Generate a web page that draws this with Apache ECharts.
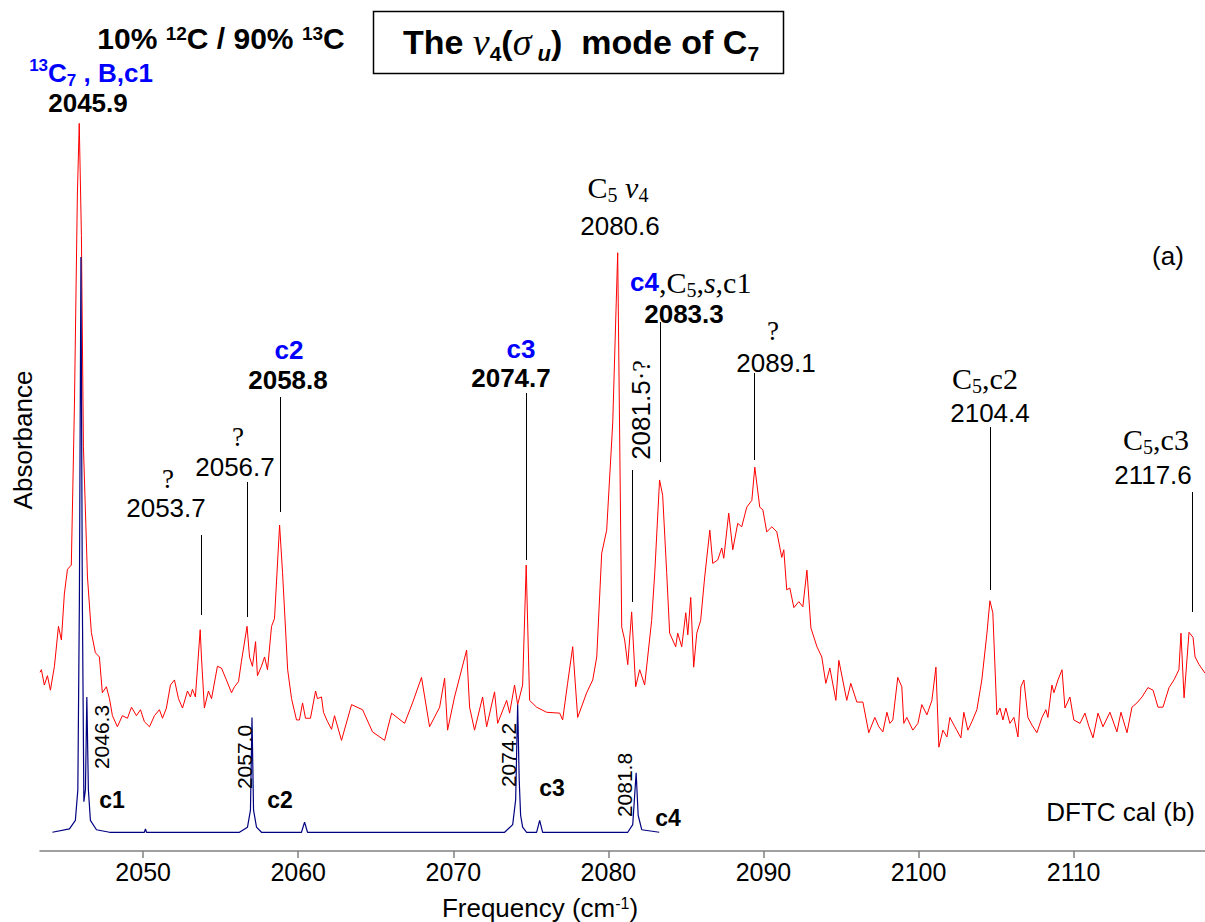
<!DOCTYPE html>
<html><head><meta charset="utf-8">
<script src="https://cdn.jsdelivr.net/npm/echarts@6/dist/echarts.min.js"></script>
<style>html,body{margin:0;padding:0;background:#fff}#c{width:1205px;height:922px}</style>
</head><body><div id="c"></div>
<script>
// ---------- DATA ----------
// (a) experimental absorbance spectrum (arbitrary units)
const redFreq = [2043.35,2043.44,2043.63,2043.83,2044.02,2044.28,2044.54,2044.73,2044.92,2045.12,
2045.37,2045.57,2045.76,2045.88,2046.02,2046.15,2046.41,2046.66,2046.92,2047.18,
2047.37,2047.63,2047.83,2048.02,2048.34,2048.66,2048.99,2049.25,2049.57,2049.83,
2050.08,2050.41,2050.73,2051.05,2051.25,2051.50,2051.76,2052.02,2052.28,2052.54,
2052.86,2053.05,2053.18,2053.37,2053.68,2053.76,2053.95,2054.21,2054.41,2054.79,
2055.05,2055.37,2055.70,2055.89,2056.15,2056.34,2056.70,2056.86,2057.05,2057.25,
2057.37,2057.63,2057.83,2058.02,2058.28,2058.47,2058.80,2058.99,2059.32,2059.57,
2059.89,2060.08,2060.28,2060.47,2060.79,2061.12,2061.24,2061.50,2061.63,2061.89,
2062.15,2062.34,
2062.79,2063.44,2064.15,2064.79,2065.57,2066.02,2066.86,2067.37,2067.95,2068.47,
2069.12,2069.44,2069.63,2070.08,2070.86,2071.05,2071.37,2071.89,2072.15,2072.66,
2072.86,2073.44,2073.63,2073.95,2074.15,2074.47,2074.70,2074.92,2075.37,2076.02,
2076.86,2077.05,2077.37,2077.70,2078.02,2078.60,2078.99,2079.25,2079.57,2079.89,
2080.28,2080.60,2080.73,2080.86,2081.05,2081.25,2081.50,2081.76,2082.02,2082.34,
2082.79,2082.99,2083.30,2083.50,2083.76,2083.95,2084.34,2084.47,2084.73,2084.99,
2085.12,2085.31,2085.50,2085.70,2085.95,2086.21,2086.54,2086.73,2087.05,2087.31,
2087.44,2087.76,2088.02,2088.34,2088.60,2088.92,2089.25,2089.44,2089.76,2089.96,
2090.21,2090.54,2090.86,2091.18,2091.31,2091.50,2091.70,2091.96,2092.28,2092.54,
2092.80,2093.06,2093.45,2093.76,2094.02,2094.28,2094.67,2094.86,2095.37,2095.63,
2096.02,2096.41,2096.79,2097.18,2097.44,2097.70,2097.96,2098.15,2098.34,2098.66,
2098.92,2099.05,2099.24,2099.63,2099.96,2100.21,2100.54,2100.86,2101.12,2101.31,
2101.57,2101.83,2102.02,2102.34,2102.73,2102.92,2103.18,2103.44,2103.76,2104.08,
2104.41,2104.60,2104.79,2105.05,2105.25,2105.44,2105.63,2105.89,2106.15,2106.41,
2106.60,2106.79,2107.05,2107.31,2107.63,2107.96,2108.21,2108.34,2108.60,2108.73,
2108.99,2109.25,2109.44,2109.76,2110.01,2110.41,2110.73,2110.99,2111.25,2111.57,
2111.89,2112.34,2112.79,2113.05,2113.44,2113.76,2114.08,2114.41,2114.79,2115.12,
2115.44,2115.76,2116.15,2116.47,2116.79,2116.92,2117.12,2117.44,2117.70,2117.83,
2118.09,2118.47];
const redAbs = [21.0,21.3,19.5,20.6,18.9,21.7,26.4,24.8,30.2,33.1,
33.6,52.4,77.2,85.5,72.3,47.5,32.2,25.7,23.3,22.8,
18.6,19.3,17.9,15.9,14.6,15.9,15.6,16.9,15.9,16.6,
15.2,14.6,15.9,16.6,15.6,16.8,19.5,20.1,17.9,16.8,
18.8,18.1,19.0,18.1,26.0,22.8,16.8,18.8,17.9,21.7,
21.5,20.1,18.6,19.3,19.9,22.3,26.4,22.8,21.7,24.6,
20.6,21.7,22.8,21.3,26.4,27.3,38.3,32.7,21.3,17.9,
15.4,15.4,17.4,15.6,15.6,18.8,17.9,18.1,16.3,15.2,
14.3,15.9,
13.0,17.2,16.6,14.0,13.0,16.2,15.0,17.4,20.4,14.6,
16.9,20.3,14.2,18.1,23.6,16.9,14.2,18.1,14.6,18.7,
15.0,17.7,16.2,19.5,17.2,19.5,33.6,17.7,16.9,16.3,
16.2,15.4,19.7,24.0,15.7,18.6,20.1,22.8,35.0,37.7,
50.3,70.3,48.3,26.3,24.8,21.9,28.1,19.3,21.3,19.5,
27.1,32.7,43.6,41.8,32.7,25.6,24.0,25.6,24.0,28.0,
25.4,29.8,21.6,25.6,27.1,32.2,37.7,33.8,34.2,35.6,
34.4,39.7,35.4,38.5,38.1,40.4,41.2,45.1,40.4,40.1,
37.5,38.1,37.5,34.5,35.4,30.7,30.9,28.6,29.3,28.7,
33.0,26.2,24.0,22.8,19.7,21.5,17.7,22.4,17.7,19.7,
17.5,17.5,13.9,15.7,14.6,14.0,16.3,15.0,15.4,20.4,
19.3,15.0,15.7,14.2,15.0,17.2,16.0,17.7,21.6,12.2,
14.2,13.4,15.7,14.6,13.3,16.3,14.2,15.2,16.6,20.1,
25.6,29.4,28.0,16.0,16.8,15.4,16.8,15.0,15.7,13.4,
19.3,20.1,15.7,14.8,13.9,15.7,16.6,15.7,19.5,18.6,
20.1,21.3,16.8,18.1,15.4,15.0,16.2,14.6,13.3,16.2,
14.6,16.3,14.0,16.3,13.9,16.9,17.4,18.1,19.2,18.9,
16.9,16.9,19.2,20.1,21.3,25.6,18.0,25.7,25.1,22.8,
21.9,20.9];
// (b) DFTC calculated spectrum
const calFreq = [2044.15,2045.25,2045.63,2045.79,2045.89,2045.99,2046.08,2046.18,2046.28,2046.37,
2046.47,2046.60,2046.99,2047.83,2050.08,2050.15,2050.22,2056.21,2056.73,2056.92,
2057.02,2057.12,2057.31,2057.63,2060.21,2060.41,2060.60,2073.31,2073.83,2074.02,
2074.15,2074.25,2074.34,2074.47,2074.73,2075.37,2075.57,2075.76,2081.25,2081.57,
2081.79,2081.92,2082.15,2083.28];
const calAbs = [2.2,2.6,3.6,7.2,29.5,69.8,29.5,5.8,7.2,18.1,
7.2,3.6,2.5,2.2,2.2,2.6,2.2,2.2,2.8,4.8,
15.7,4.8,2.8,2.2,2.2,3.4,2.2,2.2,3.1,6.0,
17.2,8.3,4.2,2.8,2.2,2.2,3.6,2.2,2.2,3.1,
9.2,4.2,2.5,2.2];
const tickValues = [2050,2060,2070,2080,2090,2100,2110];
// labelled peaks (frequency where the leader line is drawn)
const peakFreq = [2053.7,2056.7,2058.8,2074.7,2081.5,2083.3,2089.4,2104.6,2117.6];

// ---------- LAYOUT / STYLE ----------
const SANS = '"Liberation Sans", Arial, sans-serif';
const SERIF = '"Liberation Serif", "Times New Roman", serif';
const BLUE = '#0000FF';
const leaderY = [[535,615],[482,617],[397,512],[393,560],[470,602],[322,462],[373,460],[427,590],[492,612]];

const rich = {
  n:   {fontFamily: SANS, fontSize: 26, fill: '#000', lineHeight: 26},
  nb:  {fontFamily: SANS, fontSize: 26, fill: '#000', fontWeight: 'bold', lineHeight: 26},
  hb:  {fontFamily: SANS, fontSize: 30, fill: '#000', fontWeight: 'bold', lineHeight: 28},
  hsup:{fontFamily: SANS, fontSize: 19, fill: '#000', fontWeight: 'bold', verticalAlign: 'top', lineHeight: 12},
  bl:  {fontFamily: SANS, fontSize: 26, fill: BLUE, fontWeight: 'bold', lineHeight: 26},
  blt: {fontFamily: SANS, fontSize: 26, fill: BLUE, fontWeight: 'bold', lineHeight: 32},
  blsup:{fontFamily: SANS, fontSize: 17, fill: BLUE, fontWeight: 'bold', verticalAlign: 'top', lineHeight: 10},
  blsub:{fontFamily: SANS, fontSize: 17, fill: BLUE, fontWeight: 'bold', verticalAlign: 'bottom', lineHeight: 10},
  s:   {fontFamily: SERIF, fontSize: 30, fill: '#000', lineHeight: 36},
  si:  {fontFamily: SERIF, fontSize: 30, fill: '#000', fontStyle: 'italic', lineHeight: 36},
  ssub:{fontFamily: SERIF, fontSize: 20, fill: '#000', verticalAlign: 'bottom', lineHeight: 10},
  q:   {fontFamily: SERIF, fontSize: 27, fill: '#000', lineHeight: 20},
  sup: {fontFamily: SANS, fontSize: 16, fill: '#000', verticalAlign: 'top', lineHeight: 10},
  tb:  {fontFamily: SANS, fontSize: 34, fill: '#000', fontWeight: 'bold', lineHeight: 44},
  tnu: {fontFamily: SERIF, fontSize: 38, fill: '#000', fontStyle: 'italic', lineHeight: 44},
  tsub:{fontFamily: SANS, fontSize: 21, fill: '#000', fontWeight: 'bold', verticalAlign: 'bottom', lineHeight: 14},
  tsubi:{fontFamily: SANS, fontSize: 22, fill: '#000', fontWeight: 'bold', fontStyle: 'italic', verticalAlign: 'bottom', lineHeight: 14},
  r:   {fontFamily: SANS, fontSize: 21, fill: '#000', lineHeight: 22},
  rs:  {fontFamily: SERIF, fontSize: 26, fill: '#000', lineHeight: 22},
  cb:  {fontFamily: SANS, fontSize: 23, fill: '#000', fontWeight: 'bold', lineHeight: 23}
};

function T(x, y, text, opt) {
  opt = opt || {};
  return {type: 'text', x: x, y: y, rotation: opt.rot || 0, silent: true, z: 100,
    style: {text: text, rich: rich, align: opt.align || 'center', verticalAlign: 'middle',
      textAlign: opt.align || 'center', textVerticalAlign: 'middle',
      fontFamily: SANS, fontSize: 26, fill: '#000'}};
}

const chart = echarts.init(document.getElementById('c'), null, {renderer: 'svg'});
chart.setOption({
  animation: false,
  backgroundColor: '#fff',
  grid: {left: 40, right: 0, top: 0, bottom: 71, containLabel: false},
  xAxis: {
    type: 'value', min: 2043.35, max: 2118.47,
    axisLine: {show: true, onZero: false, lineStyle: {color: '#808080', width: 1.5}},
    axisTick: {show: true, inside: false, length: 7, customValues: tickValues, lineStyle: {color: '#808080', width: 1.5}},
    axisLabel: {customValues: tickValues, formatter: v => String(v), fontFamily: SANS, fontSize: 25, color: '#000', margin: 8},
    splitLine: {show: false}
  },
  yAxis: {type: 'value', min: 0, max: 100, show: false},
  series: [
    {type: 'line', data: redFreq.map((f, i) => [f, redAbs[i]]), showSymbol: false, symbol: 'none',
      lineStyle: {color: '#FF0000', width: 1}, itemStyle: {color: '#FF0000'}, z: 2},
    {type: 'line', data: calFreq.map((f, i) => [f, calAbs[i]]), showSymbol: false, symbol: 'none',
      lineStyle: {color: '#000080', width: 1.2}, itemStyle: {color: '#000080'}, z: 3}
  ]
});

const px = f => chart.convertToPixel({xAxisIndex: 0}, f);
const g = [];
peakFreq.forEach((f, i) => {
  const x = Math.round(px(f)) + 0.5;
  g.push({type: 'line', silent: true, z: 90, shape: {x1: x, y1: leaderY[i][0], x2: x, y2: leaderY[i][1]},
    style: {stroke: '#000', lineWidth: 1}});
});
// title box
g.push({type: 'rect', silent: true, z: 90, shape: {x: 373.5, y: 11.5, width: 410, height: 62},
  style: {fill: '#fff', stroke: '#000', lineWidth: 1.5}});
g.push(T(581, 42, '{tb|The }{tnu|ν}{tsub|4}{tb|(}{tnu|σ}{tsubi| u}{tb|)  mode of C}{tsub|7}'));
g.push(T(221, 38, '{hb|10% }{hsup|12}{hb|C / 90% }{hsup|13}{hb|C}'));
g.push(T(91, 73, '{blsup|13}{blt|C}{blsub|7}{blt| , B,c1}'));
g.push(T(88, 103, '{nb|2045.9}'));
g.push(T(168, 479, '{q|?}'));
g.push(T(166, 508, '{n|2053.7}'));
g.push(T(238, 437, '{q|?}'));
g.push(T(235, 467, '{n|2056.7}'));
g.push(T(289, 350, '{bl|c2}'));
g.push(T(288, 380, '{nb|2058.8}'));
g.push(T(521, 349, '{bl|c3}'));
g.push(T(511, 378, '{nb|2074.7}'));
g.push(T(618, 187, '{s|C}{ssub|5}{s| }{si|ν}{ssub|4}'));
g.push(T(620, 226, '{n|2080.6}'));
g.push(T(1168, 256, '{n|(a)}'));
g.push(T(630, 282, '{bl|c4}{s|,C}{ssub|5}{s|,}{si|s}{s|,c1}', {align: 'left'}));
g.push(T(684, 314, '{nb|2083.3}'));
g.push(T(641, 410, '{n|2081.5}{rs|·?}', {rot: Math.PI / 2}));
g.push(T(773, 331, '{q|?}'));
g.push(T(776, 363, '{n|2089.1}'));
g.push(T(985, 378, '{s|C}{ssub|5}{s|,c2}'));
g.push(T(990, 413, '{n|2104.4}'));
g.push(T(1156, 439, '{s|C}{ssub|5}{s|,c3}'));
g.push(T(1153, 475, '{n|2117.6}'));
g.push(T(23, 440, '{n|Absorbance}', {rot: Math.PI / 2}));
g.push(T(1195, 812, '{n|DFTC cal (b)}', {align: 'right'}));
g.push(T(101, 737, '{r|2046.3}', {rot: Math.PI / 2}));
g.push(T(244, 757, '{r|2057.0}', {rot: Math.PI / 2}));
g.push(T(508, 755, '{r|2074.2}', {rot: Math.PI / 2}));
g.push(T(624, 785, '{r|2081.8}', {rot: Math.PI / 2}));
g.push(T(112, 800, '{cb|c1}'));
g.push(T(280, 800, '{cb|c2}'));
g.push(T(552, 788, '{cb|c3}'));
g.push(T(668, 818, '{cb|c4}'));
g.push(T(540, 908, '{n|Frequency (cm}{sup|-1}{n|)}'));
chart.setOption({graphic: g});
</script></body></html>
